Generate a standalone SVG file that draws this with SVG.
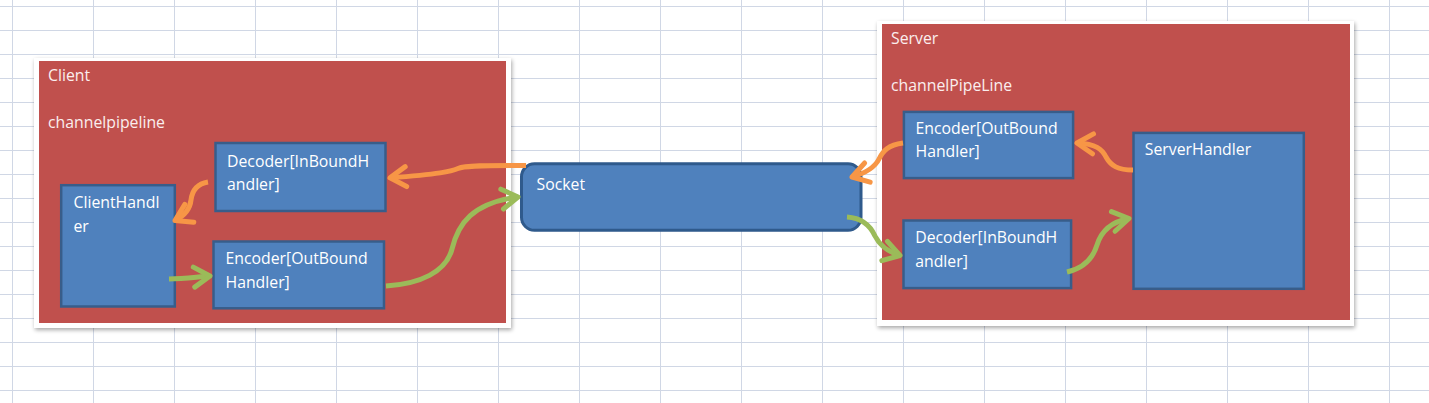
<svg xmlns="http://www.w3.org/2000/svg" width="1429" height="403" viewBox="0 0 1429 403">
<style>
.grid line{stroke:#d0d7e5;stroke-width:1}
.frame{fill:#ffffff}
.container{fill:#c0504d}
.box{fill:#4f81bd;stroke:#385d8a;stroke-width:2.5}
.sock{fill:#4f81bd;stroke:#2f5a8c;stroke-width:3}
text{font-family:"Open Sans","Noto Sans","Liberation Sans",sans-serif;font-size:15.8px;fill:#ffffff}
.lbl{fill:#fbeeee}
.o{fill:none;stroke:#f79646;stroke-width:5;stroke-linecap:butt}
.g{fill:none;stroke:#9bbb59;stroke-width:5;stroke-linecap:butt}
</style>
<defs>
<filter id="sh" x="-5%" y="-5%" width="110%" height="115%">
<feGaussianBlur in="SourceAlpha" stdDeviation="2"/>
<feOffset dx="1" dy="2" result="b"/>
<feComponentTransfer><feFuncA type="linear" slope="0.35"/></feComponentTransfer>
<feMerge><feMergeNode/><feMergeNode in="SourceGraphic"/></feMerge>
</filter>
<marker id="ao" markerUnits="userSpaceOnUse" markerWidth="40" markerHeight="40" viewBox="-20 -20 40 40" refX="0" refY="0" orient="auto" overflow="visible">
<path d="M-16,-10 L0,0 L-16,10" fill="none" stroke="#f79646" stroke-width="5" stroke-linecap="round" stroke-linejoin="round"/>
</marker>
<marker id="ag" markerUnits="userSpaceOnUse" markerWidth="40" markerHeight="40" viewBox="-20 -20 40 40" refX="0" refY="0" orient="auto" overflow="visible">
<path d="M-16,-10 L0,0 L-16,10" fill="none" stroke="#9bbb59" stroke-width="5" stroke-linecap="round" stroke-linejoin="round"/>
</marker>
</defs>
<rect x="0" y="0" width="1429" height="403" fill="#ffffff"/>
<g class="grid">
<line x1="12.5" y1="0" x2="12.5" y2="403"/><line x1="93.5" y1="0" x2="93.5" y2="403"/><line x1="174.5" y1="0" x2="174.5" y2="403"/><line x1="255.5" y1="0" x2="255.5" y2="403"/><line x1="336.5" y1="0" x2="336.5" y2="403"/><line x1="417.5" y1="0" x2="417.5" y2="403"/><line x1="498.5" y1="0" x2="498.5" y2="403"/><line x1="579.5" y1="0" x2="579.5" y2="403"/><line x1="660.5" y1="0" x2="660.5" y2="403"/><line x1="741.5" y1="0" x2="741.5" y2="403"/><line x1="822.5" y1="0" x2="822.5" y2="403"/><line x1="903.5" y1="0" x2="903.5" y2="403"/><line x1="984.5" y1="0" x2="984.5" y2="403"/><line x1="1065.5" y1="0" x2="1065.5" y2="403"/><line x1="1146.5" y1="0" x2="1146.5" y2="403"/><line x1="1227.5" y1="0" x2="1227.5" y2="403"/><line x1="1308.5" y1="0" x2="1308.5" y2="403"/><line x1="1389.5" y1="0" x2="1389.5" y2="403"/>
<line x1="0" y1="6.5" x2="1429" y2="6.5"/><line x1="0" y1="30.5" x2="1429" y2="30.5"/><line x1="0" y1="54.5" x2="1429" y2="54.5"/><line x1="0" y1="78.5" x2="1429" y2="78.5"/><line x1="0" y1="102.5" x2="1429" y2="102.5"/><line x1="0" y1="126.5" x2="1429" y2="126.5"/><line x1="0" y1="150.5" x2="1429" y2="150.5"/><line x1="0" y1="174.5" x2="1429" y2="174.5"/><line x1="0" y1="198.5" x2="1429" y2="198.5"/><line x1="0" y1="222.5" x2="1429" y2="222.5"/><line x1="0" y1="246.5" x2="1429" y2="246.5"/><line x1="0" y1="270.5" x2="1429" y2="270.5"/><line x1="0" y1="294.5" x2="1429" y2="294.5"/><line x1="0" y1="318.5" x2="1429" y2="318.5"/><line x1="0" y1="342.5" x2="1429" y2="342.5"/><line x1="0" y1="366.5" x2="1429" y2="366.5"/><line x1="0" y1="390.5" x2="1429" y2="390.5"/>
</g>
<g id="client">
<rect class="frame" x="34" y="58" width="477" height="270" filter="url(#sh)"/>
<rect class="container" x="39" y="61" width="467" height="262"/>
<text class="lbl" x="48" y="80.5">Client</text>
<text class="lbl" x="48" y="128">channelpipeline</text>
</g>
<g id="server">
<rect class="frame" x="877" y="21" width="477" height="305" filter="url(#sh)"/>
<rect class="container" x="882" y="24" width="468" height="296"/>
<text class="lbl" x="891" y="44.3">Server</text>
<text class="lbl" x="891" y="91">channelPipeLine</text>
</g>
<g id="client-decoder">
<rect class="box" x="215.5" y="143" width="170" height="68"/>
<text x="227" y="166.7">Decoder[InBoundH</text>
<text x="227" y="190">andler]</text>
</g>
<g id="client-handler">
<rect class="box" x="61.2" y="185.2" width="113.6" height="121.3"/>
<text x="73.5" y="208.3">ClientHandl</text>
<text x="73.5" y="232">er</text>
</g>
<g id="client-encoder">
<rect class="box" x="213.5" y="241.5" width="170.5" height="66.8"/>
<text x="225.5" y="264">Encoder[OutBound</text>
<text x="225.5" y="288.3">Handler]</text>
</g>
<g id="socket">
<rect class="sock" x="521.5" y="163.8" width="339.5" height="66.5" rx="13" ry="13"/>
<text x="536.5" y="190">Socket</text>
</g>
<g id="server-encoder">
<rect class="box" x="903.9" y="111.9" width="169.2" height="66.2"/>
<text x="915.5" y="134">Encoder[OutBound</text>
<text x="915.5" y="157.3">Handler]</text>
</g>
<g id="server-decoder">
<rect class="box" x="903.5" y="220.5" width="167.6" height="67.6"/>
<text x="915.2" y="243.3">Decoder[InBoundH</text>
<text x="915.2" y="267.3">andler]</text>
</g>
<g id="server-handler">
<rect class="box" x="1133.5" y="132.9" width="170.3" height="155.9"/>
<text x="1144.8" y="155">ServerHandler</text>
</g>
<g id="connectors">
<path class="o" d="M526,165.5 C495,165.5 466,165 458,168.5 C451,171.5 440,174 390,177.8" marker-end="url(#ao)"/>
<path class="o" d="M208,182 C196,184 192,192 191,200 C190,210 184,216 175,220.5" marker-end="url(#ao)"/>
<path class="g" d="M169,279 C185,278.5 196,277 210,276" marker-end="url(#ag)"/>
<path class="g" d="M386,286 C420,284 446,272 452,249 C458,224 472,203 518,197" marker-end="url(#ag)"/>
<path class="o" d="M903,143 C888,145 883,151 879,159 C875,167 866,173 852,177" marker-end="url(#ao)"/>
<path class="o" d="M1133,170 C1118,170 1111,166 1106,157 C1102,149 1096,144 1077,143" marker-end="url(#ao)"/>
<path class="g" d="M847,217 C862,218 870,225 875,236 C880,246 888,252 900,255.5" marker-end="url(#ag)"/>
<path class="g" d="M1067,272 C1085,268 1093,258 1097,245 C1101,232 1110,222 1129,218.5" marker-end="url(#ag)"/>
</g>
</svg>
